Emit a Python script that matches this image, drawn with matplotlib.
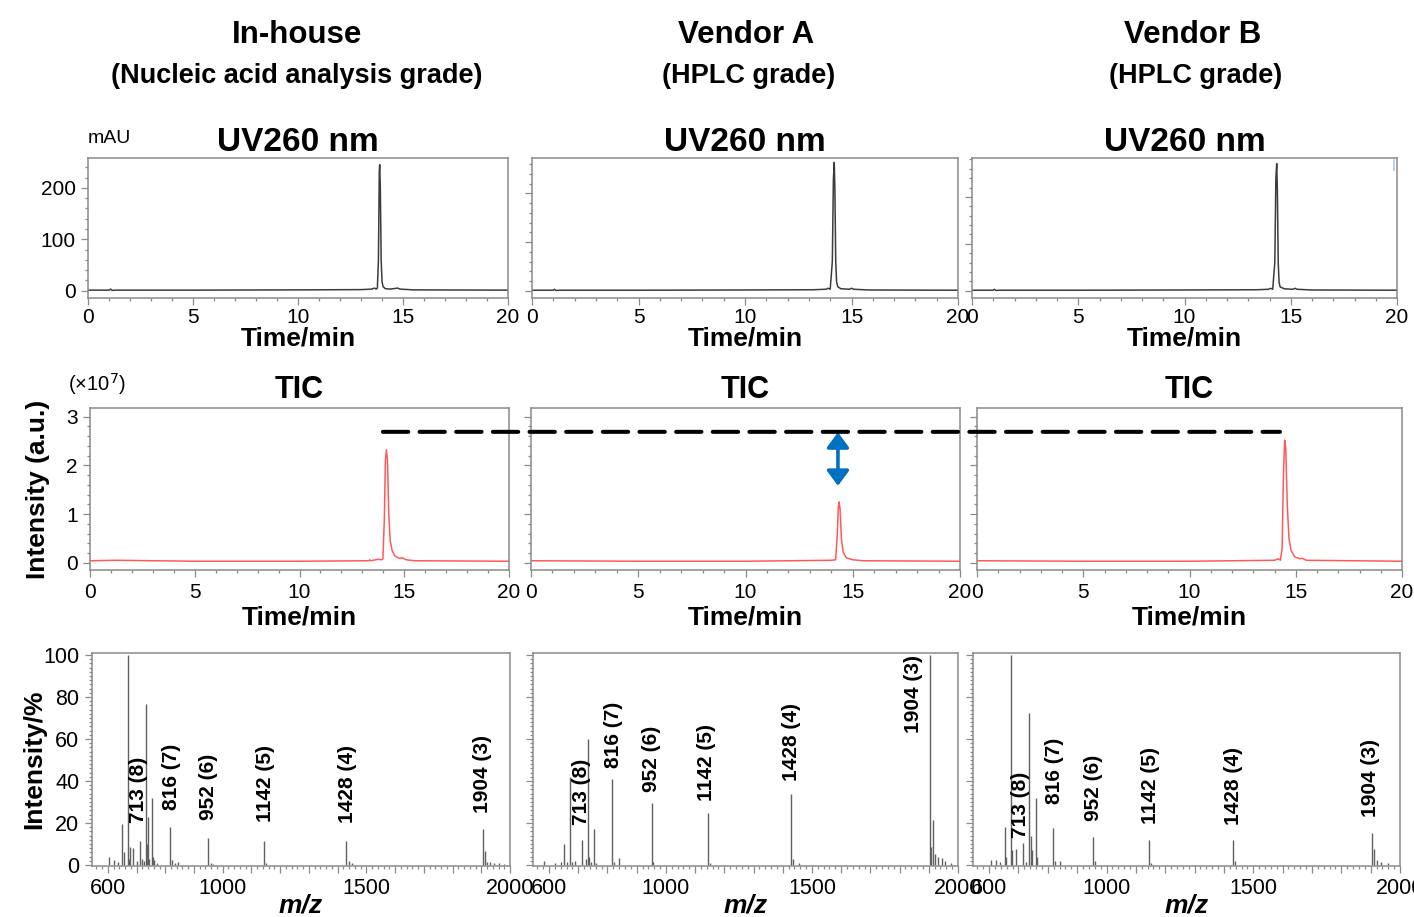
import matplotlib
matplotlib.use('Agg')
import matplotlib.pyplot as plt
from matplotlib.patches import ConnectionPatch, FancyArrowPatch
from matplotlib.ticker import MultipleLocator, FuncFormatter

plt.rcParams['font.family'] = ['Liberation Sans', 'DejaVu Sans']

# ---------------- data ----------------
columns = ['In-house', 'Vendor A', 'Vendor B']
grades = ['(Nucleic acid analysis grade)', '(HPLC grade)', '(HPLC grade)']

# UV 260 nm chromatograms (time/min, mAU)
uv_inhouse_t = [0, 1.0, 1.08, 1.15, 1.3, 5, 10, 13.0, 13.5, 13.65, 13.72, 13.78, 13.83, 13.87, 13.89,
                13.92, 13.96, 14.0, 14.05, 14.15, 14.4, 14.75, 14.85, 15.5, 20]
uv_inhouse_v = [1, 1, 3, 0.5, 1, 1, 1.5, 2, 3, 5, 3, 5, 60, 230, 245,
                200, 60, 18, 8, 4, 3, 5, 3, 1.5, 1]
uv_vendorA_t = [0, 1.0, 1.05, 1.12, 1.3, 5, 10, 13.2, 13.8, 13.9, 14.0, 14.1, 14.15, 14.19,
                14.22, 14.26, 14.3, 14.36, 14.5, 14.9, 15.0, 15.1, 15.8, 20]
uv_vendorA_v = [1, 1, 3, 0.5, 1, 1, 1.5, 2, 3, 5, 3, 60, 230, 264,
                210, 60, 18, 8, 4, 3, 5, 3, 1.5, 1]
uv_vendorB_t = [0, 1.0, 1.05, 1.12, 1.3, 5, 10, 13.4, 13.95, 14.05, 14.15, 14.25, 14.3, 14.34,
                14.37, 14.41, 14.45, 14.5, 14.7, 15.1, 15.2, 15.3, 16.0, 20]
uv_vendorB_v = [1, 1, 3, 0.5, 1, 1, 1.5, 2, 3, 5, 3, 60, 240, 271,
                215, 60, 18, 8, 4, 3, 5, 3, 1.5, 1]

# TIC chromatograms (time/min, x10^7)
tic_inhouse_t = [0, 1.2, 5, 10, 13.3, 13.35, 13.4, 13.75, 13.9, 13.98, 14.05, 14.1, 14.15, 14.2,
                 14.26, 14.33, 14.42, 14.55, 14.75, 14.9, 15.1, 15.5, 20]
tic_inhouse_v = [0.04, 0.05, 0.03, 0.03, 0.04, 0.06, 0.04, 0.07, 0.06, 0.08, 0.9, 2.1, 2.32, 2.1,
                 1.0, 0.45, 0.25, 0.14, 0.09, 0.1, 0.06, 0.04, 0.03]
tic_vendorA_t = [0, 5, 10, 14.0, 14.2, 14.27, 14.33, 14.37, 14.41, 14.47, 14.55, 14.7, 15.0, 15.5, 20]
tic_vendorA_v = [0.04, 0.03, 0.03, 0.05, 0.06, 0.5, 1.15, 1.25, 1.1, 0.5, 0.22, 0.1, 0.06, 0.04, 0.03]
tic_vendorB_t = [0, 5, 10, 14.0, 14.18, 14.28, 14.36, 14.42, 14.48, 14.53, 14.6, 14.68, 14.78,
                 14.95, 15.2, 15.3, 15.5, 20]
tic_vendorB_v = [0.04, 0.03, 0.03, 0.05, 0.08, 0.05, 0.3, 1.8, 2.52, 2.35, 1.2, 0.5, 0.25,
                 0.12, 0.08, 0.09, 0.05, 0.03]

# Mass spectra (m/z, relative intensity %)
ms_inhouse_mz = [603, 622, 634, 650, 657, 670, 674, 678, 689, 700, 712, 718, 726, 733, 736, 739,
                 744, 755, 758, 761, 770, 815, 823, 835, 846, 950, 958, 965, 1143, 1151, 1428,
                 1438, 1450, 1905, 1913, 1919, 1930, 1945, 1960, 1980]
ms_inhouse_int = [3.7, 2.4, 1.6, 19.4, 6.3, 100, 3, 8.4, 8, 2, 11.6, 3, 2, 76.5, 10, 22.7,
                  3, 31.7, 4, 2.4, 1, 18.3, 2.4, 1, 1.6, 12.7, 1.1, 0.6, 11.3, 1.1, 11.4,
                  1.9, 0.7, 17.3, 6.7, 1.6, 1.2, 1.0, 0.8, 0.5]
ms_vendorA_mz = [583, 620, 640, 650, 660, 671, 678, 689, 712, 727, 733, 738, 745, 755, 761, 814,
                 821, 838, 952, 957, 1144, 1150, 1428, 1434, 1456, 1905, 1909, 1914, 1922, 1930,
                 1945, 1956, 1975]
ms_vendorA_int = [2, 1, 1.5, 9.8, 1.5, 41.9, 1.5, 2, 12, 3, 59.8, 3.8, 1.5, 17.3, 1, 41,
                  1.6, 3.2, 29.4, 1.6, 24.8, 1, 34, 2.7, 0.8, 100, 8.6, 21.4, 5, 4,
                  3.5, 2, 0.8]
ms_vendorB_mz = [605, 623, 636, 653, 659, 673, 678, 693, 714, 725, 736, 741, 745, 759, 764, 816,
                 824, 841, 953, 960, 1144, 1150, 1430, 1438, 1905, 1912, 1920, 1935, 1960]
ms_vendorB_int = [2.5, 2.5, 1.2, 17.9, 4, 100, 7.3, 7.8, 10.5, 1.5, 72.6, 14, 7, 32, 4, 17.6,
                  1.8, 2, 13.3, 1.8, 11.7, 1, 11.7, 2, 15.2, 7.8, 2.5, 1.2, 0.8]

ms_label_text = ['713 (8)', '816 (7)', '952 (6)', '1142 (5)', '1428 (4)', '1904 (3)']
ms_label_x_inhouse = [706, 823, 950, 1150, 1434, 1904]
ms_label_y_inhouse = [19.8, 26.2, 21.4, 20.6, 20, 24.6]
ms_label_x_vendorA = [710, 821, 951, 1140, 1431, 1847]
ms_label_y_vendorA = [19, 46.3, 35, 30.5, 40, 63]
ms_label_x_vendorB = [707, 824, 957, 1150, 1434, 1900]
ms_label_y_vendorB = [12.8, 29, 20.8, 19.5, 19, 23]

uv_t = [uv_inhouse_t, uv_vendorA_t, uv_vendorB_t]
uv_v = [uv_inhouse_v, uv_vendorA_v, uv_vendorB_v]
uv_ylims = [(-14.3, 258), (-15, 273), (-15.6, 283)]
tic_t = [tic_inhouse_t, tic_vendorA_t, tic_vendorB_t]
tic_v = [tic_inhouse_v, tic_vendorA_v, tic_vendorB_v]
ms_mz = [ms_inhouse_mz, ms_vendorA_mz, ms_vendorB_mz]
ms_int = [ms_inhouse_int, ms_vendorA_int, ms_vendorB_int]
ms_lx = [ms_label_x_inhouse, ms_label_x_vendorA, ms_label_x_vendorB]
ms_ly = [ms_label_y_inhouse, ms_label_y_vendorA, ms_label_y_vendorB]

# ---------------- layout ----------------
W, H = 1414, 917
fig = plt.figure(figsize=(W / 100, H / 100), dpi=100)


def add_ax(x0, x1, y0, y1):
    return fig.add_axes([x0 / W, 1 - y1 / H, (x1 - x0) / W, (y1 - y0) / H])


GREY = '#8a8a8a'


def style(ax, labelleft):
    for s in ax.spines.values():
        s.set_color(GREY)
        s.set_linewidth(1.1)
    ax.tick_params(which='both', direction='out', color=GREY, width=0.9)
    ax.tick_params(which='major', length=5, labelsize=15, pad=4)
    ax.tick_params(which='minor', length=2.5)
    ax.tick_params(axis='y', labelleft=labelleft)


uv_boxes = [(88, 508), (532, 958), (972, 1397)]
tic_boxes = [(90, 509), (531, 960), (977, 1402)]
ms_boxes = [(92, 510), (533, 958), (973, 1400)]
title_x = [297, 746, 1193]
sub_x = [297, 749, 1196]

uv_axes, tic_axes, ms_axes = [], [], []
for i in range(3):
    fig.text(title_x[i] / W, 1 - 35 / H, columns[i], ha='center', va='center',
             fontsize=22.5, fontweight='bold')
    fig.text(sub_x[i] / W, 1 - 76 / H, grades[i], ha='center', va='center',
             fontsize=19.5, fontweight='bold')

    # UV
    ax = add_ax(uv_boxes[i][0], uv_boxes[i][1], 158, 298)
    ax.plot(uv_t[i], uv_v[i], color='#3c3c3c', lw=1.1)
    ax.set_xlim(0, 20)
    ax.set_ylim(*uv_ylims[i])
    ax.xaxis.set_major_locator(MultipleLocator(5))
    ax.xaxis.set_minor_locator(MultipleLocator(1))
    ax.yaxis.set_major_locator(MultipleLocator(100))
    ax.yaxis.set_minor_locator(MultipleLocator(20))
    style(ax, i == 0)
    ax.tick_params(axis='x', which='major', pad=2)
    ax.set_xlabel('Time/min', fontsize=19, fontweight='bold', labelpad=0)
    ax.set_title('UV260 nm', fontsize=24, fontweight='bold', pad=5)
    uv_axes.append(ax)

    # TIC
    ax = add_ax(tic_boxes[i][0], tic_boxes[i][1], 408, 570)
    ax.plot(tic_t[i], tic_v[i], color='#ff5a5a', lw=1.1)
    ax.set_xlim(0, 20)
    ax.set_ylim(-0.15, 3.18)
    ax.xaxis.set_major_locator(MultipleLocator(5))
    ax.xaxis.set_minor_locator(MultipleLocator(1))
    ax.yaxis.set_major_locator(MultipleLocator(1))
    ax.yaxis.set_minor_locator(MultipleLocator(0.2))
    style(ax, i == 0)
    ax.set_xlabel('Time/min', fontsize=19, fontweight='bold', labelpad=3)
    ax.set_title('TIC', fontsize=22, fontweight='bold', pad=7)
    tic_axes.append(ax)

    # MS
    ax = add_ax(ms_boxes[i][0], ms_boxes[i][1], 653, 866)
    ax.vlines(ms_mz[i], 0, ms_int[i], color='#606060', lw=1.0)
    ax.set_xlim(545, 2000)
    ax.set_ylim(-0.5, 101)
    ax.xaxis.set_major_locator(MultipleLocator(100))
    ax.xaxis.set_minor_locator(MultipleLocator(20))
    ax.xaxis.set_major_formatter(FuncFormatter(
        lambda v, p: '%d' % v if int(round(v)) in (600, 1000, 1500, 2000) else ''))
    ax.yaxis.set_major_locator(MultipleLocator(20))
    ax.yaxis.set_minor_locator(MultipleLocator(2))
    style(ax, i == 0)
    ax.tick_params(which='major', labelsize=15.5)
    ax.tick_params(which='minor', length=2)
    ax.set_xlabel('m/z', fontsize=19, fontweight='bold', fontstyle='italic', labelpad=-4)
    for txt, lx, ly in zip(ms_label_text, ms_lx[i], ms_ly[i]):
        ax.text(lx, ly, txt, rotation=90, ha='center', va='bottom',
                fontsize=15, fontweight='bold')
    ms_axes.append(ax)

# axis unit labels
uv_axes[0].annotate('mAU', xy=(0, 1), xycoords='axes fraction', xytext=(0, 8),
                    textcoords='offset points', ha='left', va='bottom', fontsize=14)
tic_axes[0].annotate('(×10$^{7}$)', xy=(0, 1), xycoords='axes fraction', xytext=(-16, 8),
                     textcoords='offset points', ha='left', va='bottom', fontsize=14.5)
tic_axes[0].set_ylabel('Intensity (a.u.)', fontsize=19, fontweight='bold')
tic_axes[0].yaxis.set_label_coords(-0.095, 0.5)
ms_axes[0].set_ylabel('Intensity/%', fontsize=19, fontweight='bold')
ms_axes[0].yaxis.set_label_coords(-0.11, 0.5)

# small artefact mark in Vendor B UV panel
uv_axes[2].plot([19.84, 19.84], [257, 278], color='#a9cbe6', lw=1.2)

# dashed reference line across TIC panels
con = ConnectionPatch(xyA=(13.98, 2.69), coordsA=tic_axes[0].transData,
                      xyB=(14.26, 2.69), coordsB=tic_axes[2].transData,
                      color='black', lw=2.9, linestyle=(0, (6.3, 2.8)))
fig.add_artist(con)

# blue double arrow in Vendor A TIC panel
arrow = FancyArrowPatch((14.31, 2.68), (14.31, 1.58),
                        arrowstyle='<|-|>,head_length=0.65,head_width=0.48',
                        mutation_scale=14, color='#0070C0', lw=2.6,
                        shrinkA=0, shrinkB=0)
tic_axes[1].add_patch(arrow)

fig.savefig('out.png', dpi=100)
